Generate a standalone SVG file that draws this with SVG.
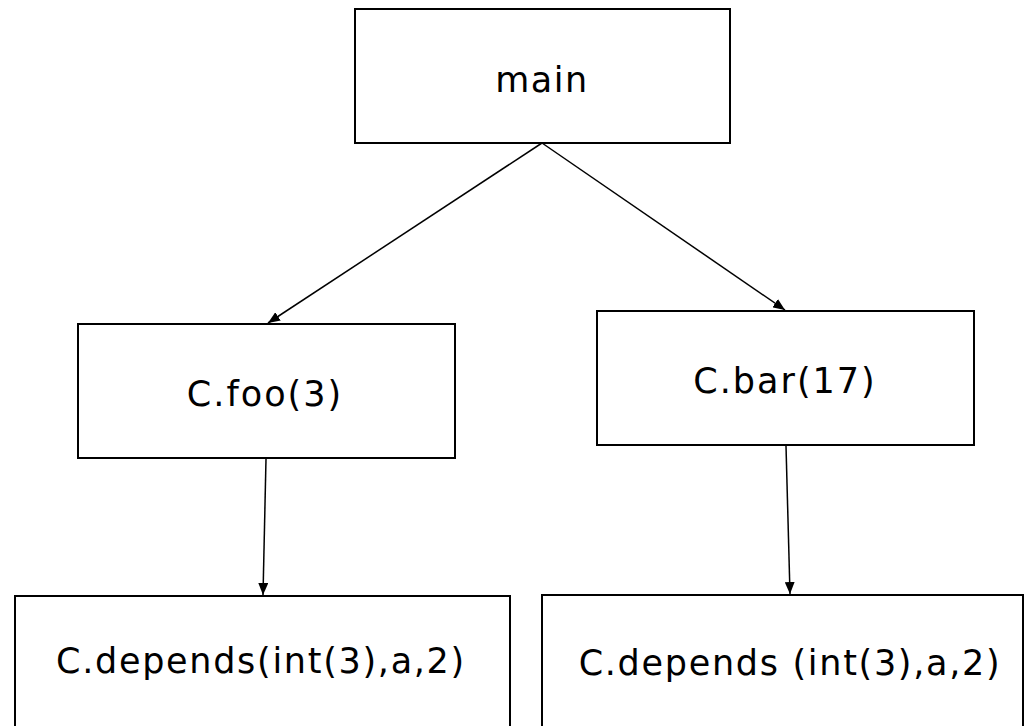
<svg xmlns="http://www.w3.org/2000/svg" width="1028" height="726" viewBox="0 0 1028 726">
<style>
.box{fill:#fff;stroke:#000;stroke-width:2}
.lbl{font-family:"DejaVu Sans","Liberation Sans",sans-serif;font-size:35px;fill:#000;text-anchor:middle}
.edge{stroke:#000;stroke-width:1.5;fill:none;marker-end:url(#ah)}
</style>
<defs>
<marker id="ah" viewBox="0 0 12 10" refX="12" refY="5" markerWidth="12" markerHeight="10" markerUnits="userSpaceOnUse" orient="auto">
<path d="M0,0 L12,5 L0,10 Z" fill="#000"/>
</marker>
</defs>
<rect width="1028" height="726" fill="#fff"/>
<g id="main"><rect class="box" x="355" y="9" width="375" height="134"/><text class="lbl" x="542" y="92" letter-spacing="1.5">main</text></g>
<g id="foo"><rect class="box" x="78" y="324" width="377" height="134"/><text class="lbl" x="265" y="406" letter-spacing="2">C.foo(3)</text></g>
<g id="bar"><rect class="box" x="597" y="311" width="377" height="134"/><text class="lbl" x="785" y="393" letter-spacing="2">C.bar(17)</text></g>
<g id="depends1"><rect class="box" x="15" y="596" width="495" height="150"/><text class="lbl" x="261" y="673" letter-spacing="1.7">C.depends(int(3),a,2)</text></g>
<g id="depends2"><rect class="box" x="542" y="595" width="481" height="150"/><text class="lbl" x="790" y="675" letter-spacing="1.7">C.depends (int(3),a,2)</text></g>
<g id="connectors">
<line class="edge" x1="542" y1="143" x2="268" y2="323"/>
<line class="edge" x1="542" y1="143" x2="785" y2="310"/>
<line class="edge" x1="266" y1="459" x2="263" y2="595"/>
<line class="edge" x1="786" y1="446" x2="790" y2="594"/>
</g>
</svg>
